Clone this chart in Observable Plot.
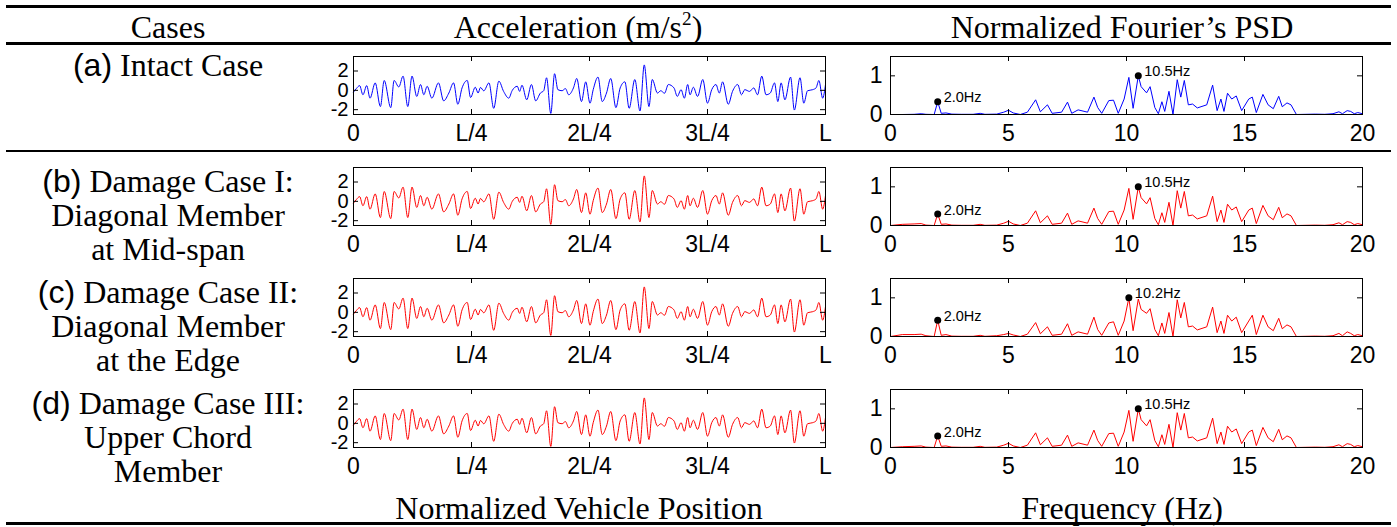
<!DOCTYPE html>
<html><head><meta charset="utf-8">
<script src="https://cdn.jsdelivr.net/npm/d3@7"></script>
<script src="https://cdn.jsdelivr.net/npm/@observablehq/plot@0.6"></script>
<style>
body{margin:0;background:#fff;}
#fig{position:relative;width:1397px;height:527px;overflow:hidden;font-family:"Liberation Serif","Times New Roman",serif;color:#000;}
.rule{position:absolute;left:6px;width:1385px;background:#000;}
.t{position:absolute;font-size:32px;line-height:1;white-space:nowrap;transform:translate(-50%,-50%);}
.sans{font-family:"Liberation Sans",Arial,sans-serif;}
.panel{position:absolute;}
sup{font-size:0.6em;vertical-align:0.7em;line-height:0;}
</style></head><body><div id="fig"></div>
<script>
// ---------- data ----------
const headerTexts = ["Cases", "Acceleration (m/s²)", "Normalized Fourier’s PSD"];
const footerTexts = ["Normalized Vehicle Position", "Frequency (Hz)"];
const caseTags = ["(a)", "(b)", "(c)", "(d)"];
const caseLines = [
  ["Intact Case"],
  ["Damage Case I:", "Diagonal Member", "at Mid-span"],
  ["Damage Case II:", "Diagonal Member", "at the Edge"],
  ["Damage Case III:", "Upper Chord", "Member"]
];
const rowColors = ["#0000ff", "#ff0000", "#ff0000", "#ff0000"];

const posTicks = [0, 0.25, 0.5, 0.75, 1];
const posTickLabels = ["0", "L/4", "2L/4", "3L/4", "L"];
const accelTicks = [-2, 0, 2];
const freqTicks = [0, 5, 10, 15, 20];
const psdTicks = [0, 1];

const accelPos = [0.000,0.006,0.013,0.020,0.028,0.035,0.046,0.057,0.065,0.079,0.086,0.096,0.105,0.115,0.124,0.134,0.142,0.149,0.156,0.166,0.180,0.191,0.202,0.212,0.221,0.230,0.241,0.248,0.258,0.264,0.269,0.276,0.287,0.297,0.308,0.318,0.329,0.336,0.347,0.352,0.357,0.367,0.377,0.386,0.396,0.403,0.409,0.418,0.426,0.433,0.442,0.449,0.456,0.466,0.473,0.483,0.492,0.501,0.508,0.518,0.527,0.536,0.545,0.556,0.565,0.575,0.584,0.596,0.607,0.616,0.626,0.633,0.644,0.651,0.659,0.667,0.679,0.686,0.694,0.701,0.708,0.713,0.720,0.729,0.740,0.750,0.759,0.768,0.775,0.782,0.794,0.803,0.814,0.822,0.829,0.839,0.848,0.856,0.865,0.874,0.883,0.892,0.899,0.906,0.914,0.926,0.934,0.946,0.954,0.962,0.973,0.980,0.986,0.994,1.000];
const accelVal = [-0.18,0.18,0.49,-0.46,0.49,-0.81,0.77,-1.68,1.02,-1.79,1.02,0.35,1.47,-1.68,1.47,-0.63,0.60,-0.46,0.42,-0.81,0.77,-1.09,-0.28,0.77,-1.44,0.25,1.02,-0.74,0.32,-0.28,0.30,-0.05,0.77,-1.86,0.95,-0.11,-0.81,-0.04,0.42,-0.11,0.53,-0.98,0.60,-1.09,-0.28,-0.04,1.30,-2.39,1.72,0.07,-0.04,0.18,-0.46,0.25,1.23,-1.16,0.88,-1.33,0.10,1.37,-1.16,-0.28,1.23,-1.79,0.25,0.88,-1.86,1.12,-2.14,2.63,-1.68,1.12,-0.28,-0.04,-0.30,0.60,0.25,-0.63,0.07,-0.81,0.60,-0.46,0.32,-0.63,1.12,-1.33,0.07,0.60,-0.28,0.88,-1.44,-0.11,0.60,-0.46,0.07,-0.11,0.25,-0.46,1.47,-0.46,-0.28,0.77,-1.16,0.77,-0.98,1.37,-2.04,1.30,-1.33,-0.04,0.07,0.25,1.02,-0.81,0.60];

const psdFreq = [0.0,0.5,1.0,1.3,1.5,1.85,2.0,2.15,2.35,2.6,3.0,3.5,3.8,4.0,4.5,4.8,5.0,5.2,5.5,5.8,6.15,6.35,6.65,6.85,7.25,7.5,7.68,7.95,8.35,8.62,8.78,8.95,9.25,9.45,9.65,9.9,10.1,10.28,10.5,10.62,10.85,11.0,11.2,11.35,11.5,11.62,11.8,11.97,12.15,12.3,12.45,12.62,12.8,13.0,13.4,13.65,13.84,14.0,14.13,14.28,14.46,14.65,14.88,15.18,15.33,15.5,15.78,16.0,16.22,16.45,16.6,16.8,16.97,17.2,17.6,18.0,18.4,18.75,19.0,19.15,19.35,19.5,19.65,19.8,20.0];
const psdA = [0,0,0.005,0.02,0.005,0,0.33,0.03,0.04,0.01,0.005,0.005,0.03,0.005,0.01,0.06,0.11,0.04,0,0.06,0.38,0.07,0.25,0.03,0.06,0.32,0.03,0.12,0.06,0.45,0.18,0.03,0.36,0.37,0.03,0.4,0.96,0.16,1.0,0.72,0.56,0.72,0.18,0.02,0.33,0.08,0.6,0,0.9,0.45,0.88,0.25,0.27,0.17,0.25,0.76,0.1,0.4,0.08,0.55,0.4,0.48,0.1,0.4,0.45,0.05,0.52,0.25,0.15,0.47,0.2,0.3,0.25,0,0.005,0.01,0.005,0.02,0.07,0.02,0.1,0.08,0.02,0.05,0.02];
const psdB = [0,0.03,0.04,0.05,0.01,0,0.30,0.03,0.04,0.01,0.005,0.005,0.03,0.005,0.01,0.06,0.11,0.04,0,0.06,0.38,0.07,0.25,0.03,0.06,0.32,0.03,0.12,0.06,0.45,0.18,0.03,0.36,0.37,0.03,0.4,0.96,0.16,1.0,0.72,0.56,0.72,0.18,0.02,0.33,0.08,0.6,0,0.9,0.45,0.88,0.25,0.27,0.17,0.25,0.76,0.1,0.4,0.08,0.55,0.4,0.48,0.1,0.4,0.45,0.05,0.52,0.25,0.15,0.47,0.2,0.3,0.25,0,0.005,0.01,0.005,0.02,0.07,0.02,0.1,0.08,0.02,0.05,0.02];
const psdC = [0,0.05,0.05,0.06,0.02,0,0.42,0.03,0.05,0.01,0.005,0.005,0.03,0.005,0.02,0.05,0.08,0.04,0,0.06,0.36,0.07,0.25,0.03,0.06,0.33,0.03,0.12,0.06,0.5,0.18,0.03,0.35,0.38,0.03,0.4,1.0,0.15,0.97,0.7,0.6,0.72,0.18,0.02,0.35,0.08,0.62,0,0.95,0.48,0.88,0.25,0.27,0.17,0.25,0.76,0.1,0.4,0.08,0.55,0.4,0.5,0.1,0.4,0.55,0.05,0.55,0.25,0.15,0.47,0.2,0.3,0.25,0,0.005,0.01,0.005,0.02,0.08,0.02,0.12,0.08,0.02,0.05,0.02];
const psdD = [0,0.02,0.03,0.04,0.01,0,0.30,0.03,0.04,0.01,0.005,0.005,0.03,0.005,0.01,0.06,0.11,0.04,0,0.06,0.38,0.07,0.25,0.03,0.06,0.32,0.03,0.12,0.06,0.45,0.18,0.03,0.36,0.37,0.03,0.4,0.96,0.16,1.0,0.72,0.56,0.72,0.18,0.02,0.33,0.08,0.6,0,0.9,0.45,0.88,0.25,0.27,0.17,0.25,0.76,0.1,0.4,0.08,0.55,0.4,0.48,0.1,0.4,0.45,0.05,0.52,0.25,0.15,0.47,0.2,0.3,0.25,0,0.005,0.01,0.005,0.02,0.07,0.02,0.1,0.08,0.02,0.05,0.02];
const psdRows = [psdA, psdB, psdC, psdD];

const peakFreqs = [[2.0, 10.5], [2.0, 10.5], [2.0, 10.1], [2.0, 10.5]];
const peakVals = [[0.33, 1.0], [0.30, 1.0], [0.42, 1.0], [0.30, 1.0]];
const peakLabels = [["2.0Hz", "10.5Hz"], ["2.0Hz", "10.5Hz"], ["2.0Hz", "10.2Hz"], ["2.0Hz", "10.5Hz"]];

// ---------- layout ----------
const fig = document.getElementById("fig");
const frameTops = [56, 167, 278, 389];
const FRAME_W = 472, FRAME_H = 58, TICK = 5;
const ML = 40, MT = 4, MB = 36;

function addText(str, x, y, cls) {
  const d = document.createElement("div");
  d.className = "t" + (cls ? " " + cls : "");
  d.style.left = x + "px"; d.style.top = y + "px";
  if (str.includes("²")) {
    const parts = str.split("²");
    d.appendChild(document.createTextNode(parts[0]));
    const s = document.createElement("sup"); s.textContent = "2"; d.appendChild(s);
    d.appendChild(document.createTextNode(parts[1]));
  } else d.textContent = str;
  fig.appendChild(d);
  return d;
}
function addRule(y, h) {
  const r = document.createElement("div");
  r.className = "rule"; r.style.top = y + "px"; r.style.height = h + "px";
  fig.appendChild(r);
}
addRule(5, 3); addRule(42, 3); addRule(150, 2); addRule(522, 3);

addText(headerTexts[0], 168, 27);
addText(headerTexts[1], 578, 27);
addText(headerTexts[2], 1122, 27);
addText(footerTexts[0], 579, 508);
addText(footerTexts[1], 1122, 508);

const lineYs = [[65], [181, 215, 249], [292, 326, 360], [403, 437, 471]];
caseLines.forEach((lines, r) => {
  lines.forEach((ln, k) => {
    const d = document.createElement("div");
    d.className = "t";
    d.style.left = "168px"; d.style.top = lineYs[r][k] + "px";
    if (k === 0) {
      const s = document.createElement("span"); s.className = "sans"; s.textContent = caseTags[r];
      d.appendChild(s); d.appendChild(document.createTextNode(" " + ln));
    } else d.textContent = ln;
    fig.appendChild(d);
  });
});

const plotStyle = {fontFamily: "'Liberation Sans', Arial, sans-serif", fontSize: "23px", background: "transparent", overflow: "visible", color: "black"};

function frameTicks(xt, yt) {
  return [
    Plot.tickX(xt, {x: d => d, insetTop: FRAME_H - TICK, stroke: "black"}),
    Plot.tickX(xt, {x: d => d, insetBottom: FRAME_H - TICK, stroke: "black"}),
    Plot.tickY(yt, {y: d => d, insetRight: FRAME_W - TICK, stroke: "black"}),
    Plot.tickY(yt, {y: d => d, insetLeft: FRAME_W - TICK, stroke: "black"}),
    Plot.frame({stroke: "black"})
  ];
}

function place(svg, left, top, ySize) {
  d3.select(svg).selectAll('g[aria-label="y-axis tick label"]').attr("font-size", ySize);
  const w = document.createElement("div");
  w.className = "panel"; w.style.left = left + "px"; w.style.top = top + "px";
  w.appendChild(svg); fig.appendChild(w);
}

frameTops.forEach((ft, r) => {
  const color = rowColors[r];
  const accel = accelPos.map((p, i) => ({p, v: accelVal[i]}));
  const a = Plot.plot({
    width: ML + FRAME_W + 12, height: MT + FRAME_H + MB,
    marginLeft: ML, marginRight: 12, marginTop: MT, marginBottom: MB,
    style: plotStyle,
    x: {domain: [0, 1], ticks: posTicks, tickFormat: d => posTickLabels[posTicks.indexOf(d)], tickSize: 0, tickPadding: 10, label: null},
    y: {domain: [-2.5, 3.5], ticks: accelTicks, tickFormat: d => String(d), tickSize: 0, tickPadding: 5, label: null},
    marks: [
      Plot.line(accel, {x: "p", y: "v", stroke: color, strokeWidth: 1, curve: "monotone-x"}),
      ...frameTicks(posTicks, accelTicks)
    ]
  });
  place(a, 353 - ML, ft - MT, 20);

  const vals = psdRows[r];
  const psd = psdFreq.map((f, i) => ({f, v: vals[i]}));
  const peaks = peakFreqs[r].map((f, i) => ({f, v: peakVals[r][i], label: peakLabels[r][i]}));
  const p = Plot.plot({
    width: ML + FRAME_W + 28, height: MT + FRAME_H + MB,
    marginLeft: ML, marginRight: 28, marginTop: MT, marginBottom: MB,
    style: plotStyle,
    x: {domain: [0, 20], ticks: freqTicks, tickFormat: d => String(d), tickSize: 0, tickPadding: 10, label: null},
    y: {domain: [0, 1.5], ticks: psdTicks, tickFormat: d => String(d), tickSize: 0, tickPadding: 8, label: null},
    marks: [
      Plot.line(psd, {x: "f", y: "v", stroke: color, strokeWidth: 1}),
      ...frameTicks(freqTicks, psdTicks),
      Plot.dot(peaks, {x: "f", y: "v", r: 3.5, fill: "black", stroke: "none"}),
      Plot.text(peaks, {x: "f", y: "v", text: "label", dx: 6, dy: -4, textAnchor: "start", fontSize: 14.5, fill: "black"})
    ]
  });
  place(p, 890 - ML, ft - MT, 23);
});
</script></body></html>
